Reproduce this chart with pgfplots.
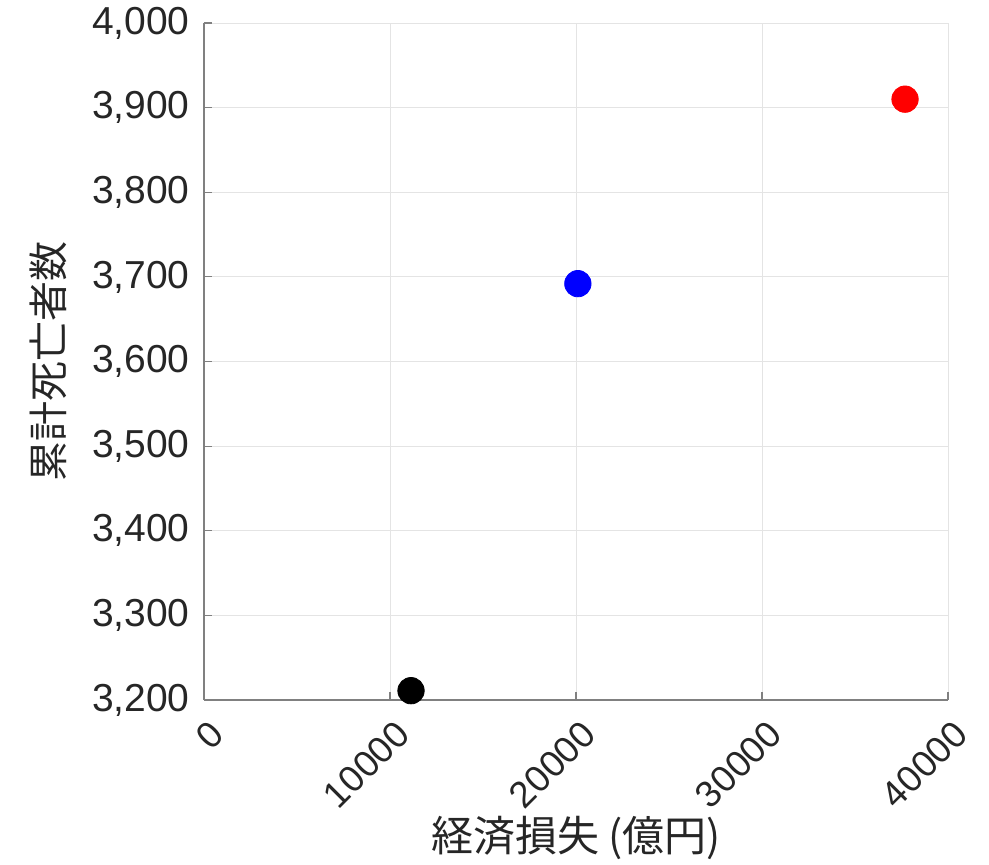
\documentclass[border=0pt]{standalone}
\usepackage{fontspec}
\setmainfont{Liberation Sans}
\newfontfamily\cjk{Noto Sans CJK JP}
\usepackage{pgfplots}
\pgfplotsset{compat=1.18}
\definecolor{gridc}{RGB}{228,228,228}
\definecolor{axc}{RGB}{128,128,128}
\definecolor{txt}{RGB}{38,38,38}
\begin{document}
\begin{tikzpicture}
\begin{axis}[
  name=ax,
  scale only axis,
  width=372pt, height=338.5pt,
  xmin=0, xmax=40000, ymin=3200, ymax=4000,
  xtick={0,10000,20000,30000,40000},
  ytick={3200,3300,...,4000},
  axis lines*=left,
  axis line style={axc, line width=0.6pt},
  tick style={axc, line width=0.6pt},
  major tick length=4pt,
  tick align=inside,
  grid=major,
  major grid style={gridc, line width=0.5pt},
  /pgf/number format/assume math mode=true,
  scaled x ticks=false,
  xticklabel style={/pgf/number format/1000 sep={}, inner sep=0pt, xshift=6.5pt, yshift=-14pt, rotate=45, anchor=east, font=\fontsize{18.5pt}{21pt}\selectfont, text=txt},
  yticklabel style={/pgf/number format/1000 sep={,}, inner sep=0pt, xshift=-7pt, font=\fontsize{19.5pt}{22pt}\selectfont, text=txt},
  xlabel={\cjk 経済損失 (億円)},
  ylabel={\cjk 累計死亡者数},
  xlabel style={at={(axis description cs:0.5,-0.204)}, anchor=center, font=\fontsize{21pt}{24pt}\selectfont, text=txt},
  ylabel style={at={(axis description cs:-0.2097,0.5)}, anchor=center, rotate=0, font=\fontsize{20pt}{24pt}\selectfont, text=txt},
  clip=false,
]
\addplot[only marks, mark=*, mark size=6.6pt, black] coordinates {(11130,3211)};
\addplot[only marks, mark=*, mark size=6.6pt, blue, mark options={fill=blue, draw=blue}] coordinates {(20100,3692)};
\addplot[only marks, mark=*, mark size=6.6pt, red, mark options={fill=red, draw=red}] coordinates {(37690,3910)};
\end{axis}
\pgfresetboundingbox
\path[use as bounding box] ([xshift=-102pt,yshift=-82.5pt]ax.south west) rectangle ([xshift=392.5pt,yshift=350pt]ax.south west);
\end{tikzpicture}
\end{document}
